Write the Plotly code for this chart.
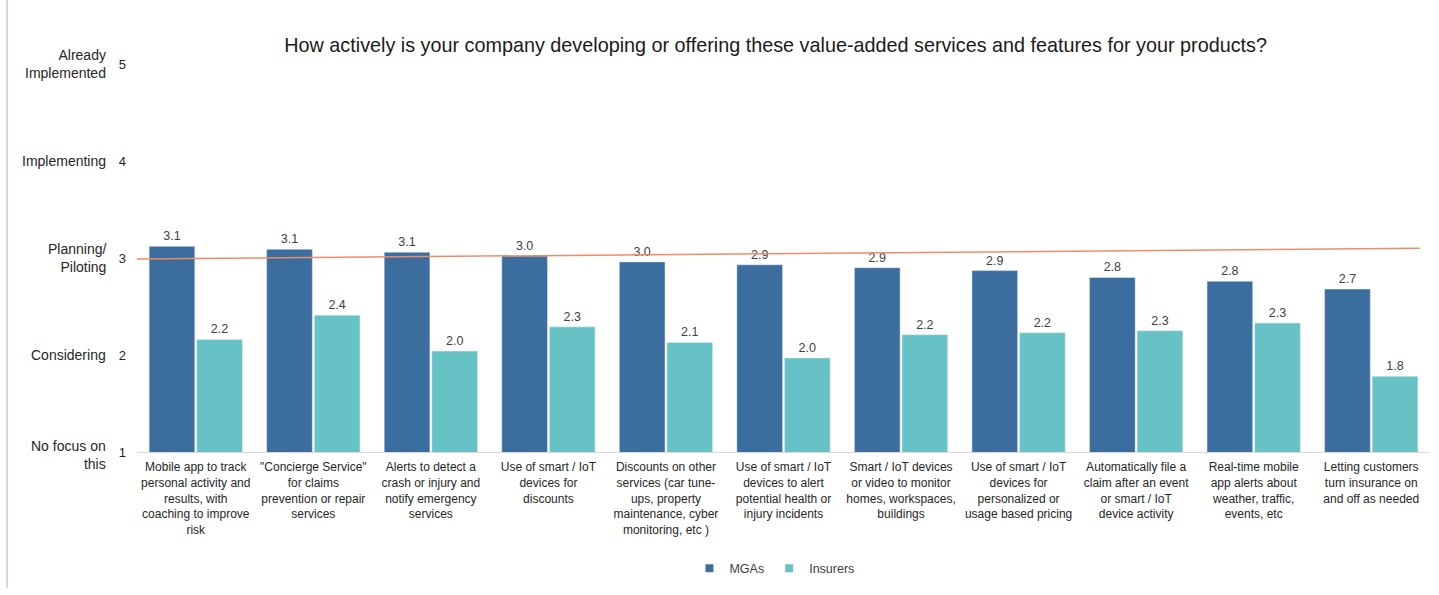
import plotly.graph_objects as go

# Survey results: how actively each value-added service is being developed
categories = [
    "Mobile app to track<br>personal activity and<br>results, with<br>coaching to improve<br>risk",
    "\"Concierge Service\"<br>for claims<br>prevention or repair<br>services",
    "Alerts to detect a<br>crash or injury and<br>notify emergency<br>services",
    "Use of smart / IoT<br>devices for<br>discounts",
    "Discounts on other<br>services (car tune-<br>ups, property<br>maintenance, cyber<br>monitoring, etc )",
    "Use of smart / IoT<br>devices to alert<br>potential health or<br>injury incidents",
    "Smart / IoT devices<br>or video to monitor<br>homes, workspaces,<br>buildings",
    "Use of smart / IoT<br>devices for<br>personalized or<br>usage based pricing",
    "Automatically file a<br>claim after an event<br>or smart / IoT<br>device activity",
    "Real-time mobile<br>app alerts about<br>weather, traffic,<br>events, etc",
    "Letting customers<br>turn insurance on<br>and off as needed",
]
mgas = [3.12, 3.09, 3.06, 3.02, 2.96, 2.93, 2.90, 2.87, 2.80, 2.76, 2.68]
insurers = [2.16, 2.41, 2.04, 2.29, 2.13, 1.97, 2.21, 2.23, 2.25, 2.33, 1.78]

scale_values = [1, 2, 3, 4, 5]
scale_labels = ["No focus on<br>this", "Considering", "Planning/<br>Piloting",
                "Implementing", "Already<br>Implemented"]

# Reference line near "Planning/Piloting"
ref_start, ref_end = 2.99, 3.10

MGA_COLOR = "#3b6e9e"
INS_COLOR = "#67c2c5"
FONT = "Liberation Sans"

fig = go.Figure()
for name, vals, color in [("MGAs", mgas, MGA_COLOR), ("Insurers", insurers, INS_COLOR)]:
    fig.add_trace(go.Bar(
        name=name, x=categories, y=vals,
        marker_color=color, showlegend=False,
        texttemplate="%{y:.1f}", textposition="outside",
        textfont=dict(size=12.5, color="#404040"), cliponaxis=False,
    ))
    # small square swatches for the legend
    fig.add_trace(go.Scatter(
        name=name, x=[None], y=[None], mode="markers",
        marker=dict(symbol="square", size=8, color=color),
    ))

fig.add_shape(type="line", xref="paper", yref="y",
              x0=0, x1=0.992, y0=ref_start, y1=ref_end,
              line=dict(color="#ef8c68", width=1.5))

# thin frame line at the far left
fig.add_shape(type="line", xref="paper", yref="paper",
              x0=-0.1005, x1=-0.1005, y0=-0.35, y1=1.2,
              line=dict(color="#d6d6d6", width=2))

for v, lab in zip(scale_values, scale_labels):
    fig.add_annotation(x=0, xref="paper", y=v, yref="y", text=lab,
                       xanchor="right", yanchor="middle", xshift=-29,
                       yshift=-3 if v == 1 else 0,
                       showarrow=False, align="right",
                       font=dict(size=14, color="#262626", family=FONT))

fig.update_layout(
    width=1439, height=595,
    margin=dict(l=137, r=9, t=64, b=143),
    paper_bgcolor="white", plot_bgcolor="white",
    barmode="group", bargap=0.19, bargroupgap=0.04,
    font=dict(family=FONT, color="#262626"),
    title=dict(
        text="How actively is your company developing or offering these value-added services and features for your products?",
        x=0.539, xanchor="center", y=0.925, yanchor="middle",
        font=dict(size=19.8, color="#1a1a1a", family=FONT),
    ),
    legend=dict(orientation="h", x=0.493, xanchor="center", y=-0.262, yanchor="top",
                font=dict(size=12.5, color="#404040"), itemwidth=30,
                traceorder="normal"),
    showlegend=True,
)
fig.update_xaxes(showline=True, linecolor="#d9d9d9", linewidth=1,
                 tickfont=dict(size=12, color="#262626"), tickangle=0,
                 ticklabelstandoff=4, showgrid=False)
fig.update_yaxes(range=[1, 5], tickvals=scale_values,
                 ticktext=[str(v) for v in scale_values],
                 showgrid=False, zeroline=False, showline=False,
                 ticklabelstandoff=10,
                 tickfont=dict(size=13, color="#262626"))

fig.write_html("out.html")
